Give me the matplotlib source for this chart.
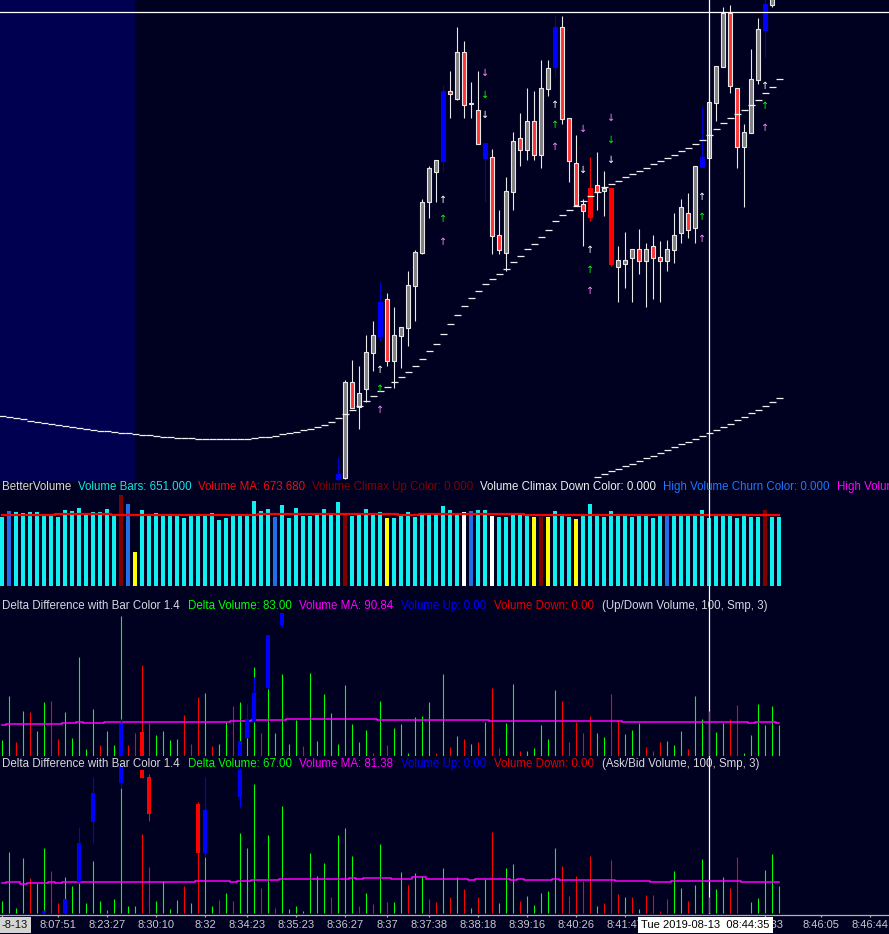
import numpy as np
import matplotlib.pyplot as plt

plt.rcParams["font.family"] = ["Liberation Sans", "DejaVu Sans"]

BG = "#000020"
SHADE = "#000050"
W, H = 889, 934
FS = 8.3

bars = np.arange(112)

# ---- price candles, bars 48..111 (earlier bars sit below the visible range)
candle_start = 48
opens = [1, 2, 98, 73, 91, 127, 144, 181, 119, 144, 152, 194, 227, 278, 308, 319,
         389, 381, 428, 376, 370, 337, 323, 245, 227, 288, 342, 330, 359, 325, 391, 413,
         453, 362, 317, 276, 292, 295, 289, 292, 213, 216, 222, 231, 219, 234, 223, 219,
         230, 247, 267, 252, 313, 322, 377, 413, 467, 392, 333, 347, 400, 450, 475, 490]
highs = [23, 100, 120, 114, 145, 159, 198, 187, 173, 153, 209, 230, 281, 314, 320, 395,
         409, 453, 439, 398, 409, 337, 331, 270, 303, 348, 367, 392, 389, 420, 420, 464,
         464, 362, 345, 281, 323, 328, 309, 292, 234, 248, 231, 251, 237, 245, 239, 240,
         267, 281, 287, 314, 373, 381, 414, 473, 475, 392, 356, 431, 462, 485, 495, 505]
lows = [0, 1, 72, 51, 78, 109, 139, 114, 92, 112, 134, 159, 226, 262, 278, 309,
        362, 380, 362, 362, 336, 278, 226, 226, 209, 270, 314, 320, 320, 312, 384, 403,
        356, 298, 275, 234, 259, 270, 264, 214, 178, 192, 178, 206, 173, 181, 178, 209,
        217, 237, 242, 237, 313, 322, 359, 413, 387, 312, 273, 347, 396, 423, 473, 488]
closes = [6, 98, 72, 87, 128, 145, 178, 119, 145, 153, 195, 228, 278, 312, 320, 389,
          386, 428, 375, 377, 336, 322, 244, 230, 289, 339, 330, 359, 325, 392, 412, 453,
          361, 319, 275, 269, 263, 288, 292, 216, 220, 220, 231, 219, 231, 222, 219, 231,
          245, 273, 250, 314, 323, 378, 414, 467, 394, 333, 348, 401, 451, 476, 490, 500]
blue_bars = [48, 54, 63, 69, 79, 100, 109]
red_bars = [84, 87]

# fast moving average (one dash per bar) and slow one from bar 85
ma_fast = [64, 63, 62, 61, 59.5, 58.5, 57.5, 56.5, 55.5, 54.5, 53.5, 52.5, 51.5, 50.5,
           49.5, 48.8, 48, 47.3, 46.6, 46, 45.3, 44.7, 44.1, 43.5, 43, 42.5, 42, 41.6,
           41.3, 41, 40.8, 40.7, 40.7, 40.8, 41, 41.4, 42, 42.7, 43.5, 44.5, 45.7, 47,
           48.3, 49.7, 51.2, 53, 55, 57.7,
           61.7, 65.7, 69.7, 74, 78.7, 83.7, 88.7, 93, 97.7, 102.7, 107.7, 113.7, 120.7,
           128.7, 135.7, 145.7, 155.7, 164.7, 173.7, 181.7, 188.7, 195.7, 200.7, 205.7,
           210.7, 217.7, 223.7, 230.7, 235.7, 242.7, 249.7, 258.7, 264.7, 269.7, 273.7,
           278.7, 283.7, 287.7, 292.7, 295.7, 298.7, 302.7, 305.7, 308.7, 311.7, 315.7,
           318.7, 321.7, 324.7, 328.7, 331.7, 335.7, 339.7, 344.7, 350.7, 356.7, 361.7,
           365.7, 369.7, 374.7, 379.7, 386.7, 392.7, 400.7]
slow_start = 85
ma_slow = [3, 6, 9, 11, 14, 16, 19, 22, 24, 27, 30, 33, 36, 38, 41, 44, 47, 50, 53, 56,
           60, 63, 67, 70, 74, 78, 82]

arrow_bar = [54, 54, 54, 63, 63, 63, 69, 69, 69, 79, 79, 79, 83, 83,
             84, 84, 84, 87, 87, 87, 100, 100, 100, 109, 109, 109]
arrow_price = [110, 91, 70, 280, 261, 238, 407, 385, 365, 375, 355, 333, 351, 310,
               230, 210, 189, 362, 340, 320, 283, 263, 241, 394, 374, 352]
arrow_up = [1, 1, 1, 1, 1, 1, 0, 0, 0, 1, 1, 1, 0, 0,
            1, 1, 1, 0, 0, 0, 1, 1, 1, 1, 1, 1]
arrow_col = ["w", "g", "p", "w", "g", "p", "p", "g", "w", "w", "g", "p", "p", "w",
             "w", "g", "p", "p", "g", "w", "w", "g", "p", "w", "g", "p"]

cross_bar = 101
cross_price = 468
session_end = 19.0

# ---- BetterVolume
volume = [666, 720, 707, 698, 707, 710, 675, 688, 666, 730,
          720, 749, 698, 714, 710, 742, 691, 874, 787, 326,
          730, 691, 698, 672, 675, 691, 656, 675, 675, 678,
          701, 637, 653, 669, 675, 669, 816, 720, 742, 662,
          774, 650, 746, 675, 675, 688, 739, 685, 806, 688,
          675, 688, 739, 688, 710, 650, 650, 678, 707, 666,
          691, 691, 691, 771, 730, 691, 707, 723, 733, 733,
          675, 666, 666, 682, 682, 682, 666, 666, 666, 720,
          672, 666, 643, 672, 787, 672, 666, 723, 678, 675,
          666, 675, 669, 656, 669, 669, 669, 675, 675, 675,
          733, 650, 675, 675, 675, 656, 675, 662, 662, 730,
          666, 662]
vol_ma = [685] * 8 + [690] * 8 + [682] * 21 + [690] * 20 + [680] * 3 + [692] * 15 + [684] * 37
vol_blue = [1, 18, 39, 67, 95]
vol_maroon = [17, 49, 77, 109]
vol_yellow = [19, 55, 76, 78, 82]
vol_white = [66, 70]

# ---- Delta panel 1 (Up/Down volume)
delta1 = [29, 111, 26, 83, 81, 45, 99, 102, 31, 81, 33, 184, 12, 87, 20, 46, 20, 260, 20, 43,
          169, 61, 38, 46, 29, 31, 76, 22, 109, 117, 18, 22, 63, 92, 100, 38, 165, 43, 124, 43,
          152, 22, 67, 18, 154, 27, 115, 80, 22, 131, 59, 25, 48, 5, 102, 20, 51, 59, 5, 72,
          74, 100, 5, 152, 16, 37, 31, 22, 25, 63, 126, 14, 61, 133, 9, 9, 14, 57, 31, 122,
          102, 25, 63, 42, 74, 42, 35, 115, 66, 40, 48, 61, 16, 9, 25, 27, 20, 46, 12, 111,
          68, 83, 44, 61, 68, 94, 5, 38, 96, 57, 92, 57]
delta1_red = [2, 4, 7, 8, 14, 18, 19, 20, 21, 26, 27, 28, 30, 33, 37, 43, 53, 55, 62, 64,
              66, 68, 70, 71, 74, 80, 81, 82, 83, 84, 87, 88, 92, 93, 94, 98, 104, 105]
delta1_ma = ([57] + [59] * 8 + [61] * 2 + [62] + [60] * 3 + [62] * 18 + [64] * 3 + [66] * 5
             + [68] * 3 + [69] + [68] * 9 + [66] * 16 + [64] * 19 + [62] * 18 + [60]
             + [62] * 3 + [60])
d1c_bar = [17, 20, 34, 35, 36, 38, 40]
d1c_open = [0, 44, 0, 32, 63, 125, 243]
d1c_high = [69, 44, 28, 96, 146, 224, 265]
d1c_low = [0, 0, 0, 32, 63, 125, 239]
d1c_close = [59, 0, 28, 69, 117, 224, 265]

# ---- Delta panel 2 (Ask/Bid volume)
delta2 = [50, 256, 21, 231, 147, 126, 273, 176, 42, 151, 113, 126, 42, 218, 50, 13, 59, 526, 29, 29,
          332, 193, 50, 134, 17, 55, 113, 42, 468, 235, 29, 55, 84, 50, 336, 273, 542, 105, 328, 21,
          449, 17, 29, 8, 252, 155, 211, 67, 328, 357, 239, 29, 84, 38, 290, 48, 46, 172, 118, 168,
          155, 59, 46, 189, 67, 151, 101, 21, 67, 143, 340, 42, 189, 206, 50, 71, 34, 84, 92, 273,
          197, 71, 155, 134, 239, 29, 42, 223, 80, 67, 67, 17, 76, 76, 8, 59, 176, 105, 50, 118,
          227, 67, 101, 151, 105, 235, 0, 46, 63, 181, 248, 113]
delta2_red = [4, 7, 8, 20, 21, 26, 28, 31, 33, 37, 39, 47, 51, 53, 55, 58, 61, 62, 64, 66,
              68, 70, 74, 80, 81, 82, 83, 84, 86, 87, 88, 90, 92, 93, 94, 95, 98, 104, 105]
delta2_ma = ([126] + [130] * 2 + [125] + [129] * 3 + [133] + [129] + [133] * 19 + [137] * 5
             + [133] + [137] * 2 + [141] * 3 + [138] + [146] * 10 + [150] + [146] + [150] * 4
             + [146] * 3 + [151] * 2 + [146] * 6 + [141] + [146] * 5 + [141] + [146]
             + [141] * 4 + [146] + [141] * 8 + [137] * 5 + [132] * 3 + [137] * 10 + [133] * 6)
d2c_bar = [6, 7, 9, 11, 13, 17, 20, 21, 28, 29, 34]
d2c_open = [0, 3, 0, 130, 384, 546, 600, 571, 458, 253, 489]
d2c_high = [13, 3, 59, 363, 571, 630, 600, 584, 468, 571, 610]
d2c_low = [0, 0, 0, 130, 294, 528, 567, 388, 253, 235, 447]
d2c_close = [8, 0, 59, 294, 504, 620, 567, 417, 253, 433, 600]

# ---- time axis
tick_bar = [8, 15, 22, 29, 35, 42, 49, 55, 61, 68, 75, 82, 89, 109, 117, 124]
tick_text = ["8:07:51", "8:23:27", "8:30:10", "8:32", "8:34:23", "8:35:23", "8:36:27",
             "8:37", "8:37:38", "8:38:18", "8:39:16", "8:40:26", "8:41:47", "8:45:33",
             "8:46:05", "8:46:44"]
cross_label = "Tue 2019-08-13  08:44:35"

# ------------------------------------------------------------------
fig = plt.figure(figsize=(W / 100, H / 100), dpi=100, facecolor=BG)


def panel(top, bottom, ylo, yhi):
    ax = fig.add_axes([0, 1 - bottom / H, 1, (bottom - top) / H])
    ax.set_xlim(-2 / 7, 887 / 7)
    ax.set_ylim(ylo, yhi)
    ax.set_axis_off()
    return ax


def title(ax, y_px, parts, gap):
    prev = ax.annotate(parts[0][0], xy=(2, H - y_px), xycoords="figure pixels",
                       va="center", ha="left", color=parts[0][1], fontsize=FS, zorder=10)
    for s, col in parts[1:]:
        prev = ax.annotate(s, xy=(1, 0), xycoords=prev, xytext=(gap, 0),
                           textcoords="offset points", va="bottom", ha="left",
                           color=col, fontsize=FS, zorder=10)


def candles(ax, idx, o, h, l, c, faces, edges, wicks, width, lw, wick_lw=0.8):
    o, h, l, c = map(np.asarray, (o, h, l, c))
    ax.vlines(idx, l, h, colors=wicks, lw=wick_lw, zorder=3)
    ax.bar(idx, np.maximum(np.abs(c - o), 0.8), bottom=np.minimum(o, c), width=width,
           color=faces, edgecolor=edges, linewidth=lw, zorder=4)


# price
ax_p = panel(0, 481, -1, 480)
ax_p.axvspan(-1, session_end, color=SHADE, lw=0, zorder=0)
cidx = np.arange(candle_start, 112)
faces, edges, wicks = [], [], []
for k, i in enumerate(cidx):
    if i in blue_bars:
        faces.append("#0000ff"); edges.append("#0000ff"); wicks.append("#0000d0")
    elif i in red_bars:
        faces.append("#ff0000"); edges.append("#ff0000"); wicks.append("#ff0000")
    elif closes[k] >= opens[k]:
        faces.append("#808080"); edges.append("#e8e8e8"); wicks.append("#e8e8e8")
    else:
        faces.append("#ff3535"); edges.append("#e8e8e8"); wicks.append("#e8e8e8")
candles(ax_p, cidx, opens, highs, lows, closes, faces, edges, wicks, 0.6, 0.8)
ax_p.hlines(ma_fast, bars - 0.5, bars + 0.5, color="#f0f0f0", lw=0.9, zorder=5)
sidx = np.arange(slow_start, slow_start + len(ma_slow))
ax_p.hlines(ma_slow, sidx - 0.5, sidx + 0.5, color="#f0f0f0", lw=0.9, zorder=5)
acol = {"w": "#ffffff", "g": "#00ff00", "p": "#ff88ff"}
for b, pr, up, col in zip(arrow_bar, arrow_price, arrow_up, arrow_col):
    ax_p.text(b, pr, "\u2191" if up else "\u2193", color=acol[col], ha="center",
              va="center", fontsize=7, family="DejaVu Sans", zorder=6)
ax_p.axhline(cross_price, color="white", lw=0.9, zorder=7)
ax_p.axvline(cross_bar, color="white", lw=0.9, zorder=7)

# volume
ax_v = panel(481, 596, -96, 1008)
vcol = []
for i in bars:
    if i in vol_blue:
        vcol.append("#1f6fe8")
    elif i in vol_maroon:
        vcol.append("#800000")
    elif i in vol_yellow:
        vcol.append("#ffff00")
    elif i in vol_white:
        vcol.append("#ffffff")
    else:
        vcol.append("#10f0f0")
ax_v.bar(bars, volume, width=0.7, color=vcol, lw=0, zorder=2)
ax_v.plot(bars, vol_ma, drawstyle="steps-mid", color="#ff0000", lw=1.6, zorder=3)
ax_v.axvline(cross_bar, color="white", lw=0.9, zorder=4)
title(ax_v, 487, [("BetterVolume", "#d8d8d8"), ("Volume Bars: 651.000", "#10e8e8"),
                  ("Volume MA: 673.680", "#e81010"), ("Volume Climax Up Color: 0.000", "#800000"),
                  ("Volume Climax Down Color: 0.000", "#f0f0f0"),
                  ("High Volume Churn Color: 0.000", "#1e78ff"), ("High Volume", "#ff00ff")],
      4.9)


def delta_panel(ax, vals, red, ma, cb, co, ch, cl, cc, label_vals, tail):
    cols = []
    for i in bars:
        if i == cross_bar:
            cols.append("#ff00ff")
        elif i in red:
            cols.append("#ff0000")
        else:
            cols.append("#00ff00")
    ax.axvline(cross_bar, color="white", lw=0.9, zorder=1)
    ax.vlines(bars, 0, vals, colors=cols, lw=0.8, zorder=2)
    ax.plot(bars, ma, drawstyle="steps-mid", color="#ff00ff", lw=1.1, zorder=3)
    ccol = ["#0000ff" if c >= o else "#ff0000" for o, c in zip(co, cc)]
    candles(ax, cb, co, ch, cl, cc, ccol, ccol, ccol, 0.68, 0)
    title(ax, label_vals[0], [("Delta Difference with Bar Color 1.4", "#d8d8e0"),
                              ("Delta Volume: " + label_vals[1], "#00ff00"),
                              ("Volume MA: " + label_vals[2], "#ff00ff"),
                              ("Volume Up: 0.00", "#0000ff"),
                              ("Volume Down: 0.00", "#e00000"),
                              (tail, "#d8d8e0")], 5.6)


ax_d1 = panel(596, 756, -0.6, 297)
delta_panel(ax_d1, delta1, delta1_red, delta1_ma, d1c_bar, d1c_open, d1c_high, d1c_low,
            d1c_close, (606, "83.00", "90.84"), "(Up/Down Volume, 100, Smp, 3)")
ax_d2 = panel(756, 914, -2.9, 660.7)
delta_panel(ax_d2, delta2, delta2_red, delta2_ma, d2c_bar, d2c_open, d2c_high, d2c_low,
            d2c_close, (764, "67.00", "81.38"), "(Ask/Bid Volume, 100, Smp, 3)")

# time axis strip
ax_t = panel(914, 934, 0, 20)
ax_t.axhline(19.5, color="#b0b0b0", lw=0.9)
ax_t.vlines([0] + tick_bar, 17, 19.5, color="#b0b0b0", lw=0.9)
for b, s in zip(tick_bar, tick_text):
    ax_t.text(b, 9, s, color="#c8c8d0", ha="center", va="center", fontsize=8)
ax_t.text(0.002, 9, "-8-13", transform=ax_t.get_yaxis_transform(), color="#101010",
          ha="left", va="center", fontsize=8,
          bbox=dict(facecolor="#d4d4d4", edgecolor="none", pad=2.2))
ax_t.text(cross_bar - 0.5, 9, cross_label, color="black", ha="center", va="center",
          fontsize=8, zorder=10, bbox=dict(facecolor="white", edgecolor="none", pad=2.2))

fig.savefig("out.png", dpi=100, facecolor=BG)
